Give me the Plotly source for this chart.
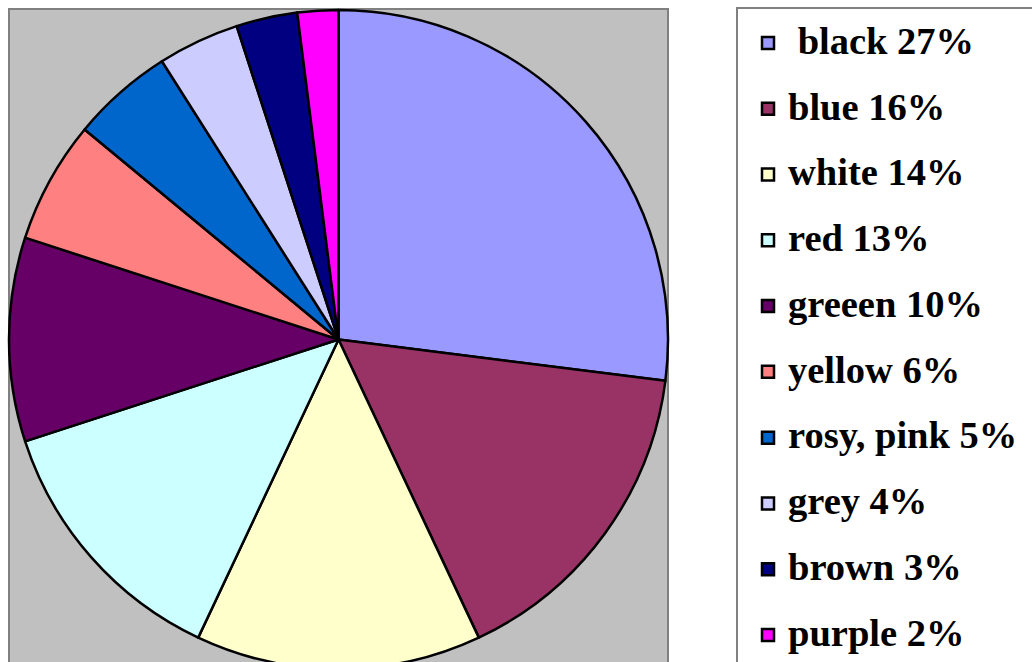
import plotly.graph_objects as go

labels = ["black", "blue", "white", "red", "greeen", "yellow", "rosy, pink", "grey", "brown", "purple"]
values = [27, 16, 14, 13, 10, 6, 5, 4, 3, 2]
colors = ["#9999FF", "#993366", "#FFFFCC", "#CCFFFF", "#660066",
          "#FF8080", "#0066CC", "#CCCCFF", "#000080", "#FF00FF"]

W, H = 1032, 680

legend_labels = []
for i, (lab, v) in enumerate(zip(labels, values)):
    txt = f"{lab} {v}%"
    if i == 0:
        txt = "\u00a0" + txt
    legend_labels.append(f"<span style='font-size:38.5px;baseline-shift:8px'>{txt}</span>")

fig = go.Figure(go.Pie(
    labels=legend_labels,
    values=values,
    sort=False,
    direction="clockwise",
    rotation=0,
    textinfo="none",
    hoverinfo="label+percent",
    marker=dict(colors=colors, line=dict(color="black", width=2.5)),
    domain=dict(x=[9 / W, 668 / W], y=[1 - 669 / H, 1 - 10 / H]),
))

fig.update_layout(
    width=W, height=H,
    margin=dict(l=0, r=0, t=0, b=0),
    paper_bgcolor="white",
    showlegend=True,
    legend=dict(
        x=748 / W, y=1 - 5 / H, xanchor="left", yanchor="top",
        bgcolor="rgba(0,0,0,0)", borderwidth=0,
        font=dict(family="Liberation Serif", size=48.3, color="black", weight="bold"),
    ),
    shapes=[
        dict(type="rect", xref="paper", yref="paper",
             x0=9 / W, x1=668 / W, y0=-0.05, y1=1 - 9 / H,
             fillcolor="#C0C0C0", line=dict(color="#808080", width=2),
             layer="below"),
        dict(type="rect", xref="paper", yref="paper",
             x0=737 / W, x1=1.05, y0=-0.05, y1=1 - 8 / H,
             fillcolor="white", line=dict(color="#808080", width=2),
             layer="below"),
    ],
)

fig.write_html("out.html", config={"displayModeBar": False},
               post_script="document.body.style.margin='0';document.body.style.overflow='hidden';")
